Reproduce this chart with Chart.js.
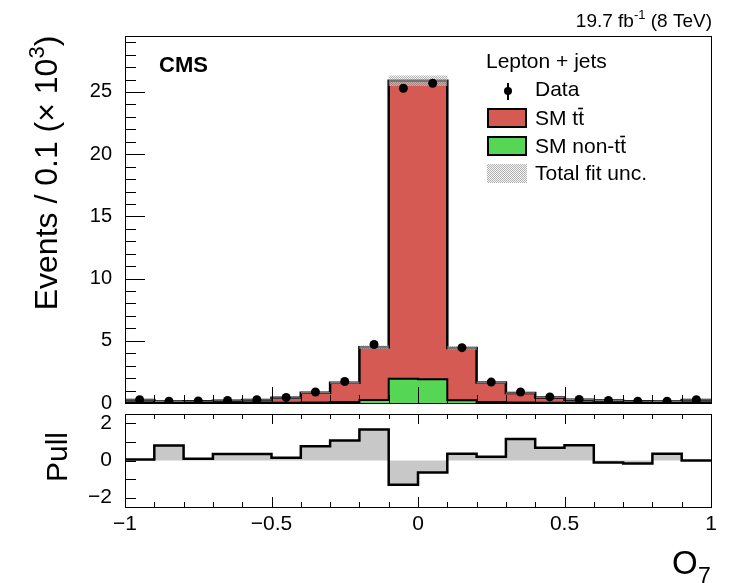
<!DOCTYPE html>
<html>
<head>
<meta charset="utf-8">
<title>O7 distribution</title>
<script src="https://cdn.jsdelivr.net/npm/chart.js@4.4.1/dist/chart.umd.min.js"></script>
<style>
  html, body { margin: 0; padding: 0; background: #fff; }
  #wrap { position: relative; width: 740px; height: 583px; }
  #wrap canvas { position: absolute; left: 0; top: 0; }
</style>
</head>
<body>
<div id="wrap">
  <canvas id="mainChart" width="740" height="583"></canvas>
  <canvas id="pullChart" width="740" height="583"></canvas>
</div>
<script>
// bins of O7 (lower edges), width 0.1
const binLow = [-1.0, -0.9, -0.8, -0.7, -0.6, -0.5, -0.4, -0.3, -0.2, -0.1,
                 0.0,  0.1,  0.2,  0.3,  0.4,  0.5,  0.6,  0.7,  0.8,  0.9];
const binUp = 1.0;

// events / 0.1 (x 10^3)
const smNonTT = [0.02, 0.01, 0.01, 0.01, 0.02, 0.03, 0.05, 0.09, 0.24, 1.95,
                 1.90, 0.23, 0.09, 0.05, 0.03, 0.02, 0.01, 0.01, 0.01, 0.02];
const smTT    = [0.23, 0.11, 0.14, 0.18, 0.23, 0.39, 0.77, 1.53, 4.24, 23.95,
                 24.00, 4.19, 1.56, 0.75, 0.42, 0.25, 0.19, 0.14, 0.12, 0.23];
const dataVals = [0.27, 0.15, 0.16, 0.20, 0.27, 0.45, 0.88, 1.73, 4.70, 25.3,
                  25.7, 4.45, 1.68, 0.88, 0.49, 0.29, 0.20, 0.15, 0.14, 0.26];
const fitUnc  = [0.05, 0.04, 0.04, 0.04, 0.05, 0.05, 0.06, 0.08, 0.14, 0.42,
                 0.42, 0.14, 0.08, 0.06, 0.05, 0.05, 0.04, 0.04, 0.04, 0.05];
const pullVals = [0.05, 0.80, 0.10, 0.35, 0.35, 0.15, 0.76, 1.07, 1.67, -1.31,
                  -0.64, 0.36, 0.20, 1.16, 0.69, 0.82, -0.11, -0.16, 0.36, 0.0];

const mainYTicks = [0, 5, 10, 15, 20, 25];
const pullYTicks = [-2, 0, 2];
const xTicks = [-1, -0.5, 0, 0.5, 1];

const colors = {
    tt: 'rgb(214, 90, 84)',
    nonTT: 'rgb(85, 214, 85)',
    pullFill: 'rgb(200, 200, 200)'
};
const FONT = '"Liberation Sans", Arial, Helvetica, sans-serif';

Chart.defaults.color = '#000';
Chart.defaults.font.family = FONT;
Chart.defaults.animation = false;

// histogram -> stepped points (lower edges + final upper edge)
function toSteps(vals) {
    const pts = vals.map((v, i) => ({ x: binLow[i], y: v }));
    pts.push({ x: binUp, y: vals[vals.length - 1] });
    return pts;
}

function fmtMinus(v) {
    return v < 0 ? '\u2212' + Math.abs(v) : String(v);
}

// dotted pattern for fit uncertainty
function makePattern() {
    const c = document.createElement('canvas');
    c.width = 2; c.height = 2;
    const g = c.getContext('2d');
    g.fillStyle = 'rgba(150, 150, 150, 0.75)';
    g.fillRect(0, 0, 1, 1);
    g.fillRect(1, 1, 1, 1);
    g.fillStyle = 'rgba(240, 240, 240, 0.5)';
    g.fillRect(1, 0, 1, 1);
    g.fillRect(0, 1, 1, 1);
    return g.createPattern(c, 'repeat');
}
const hatch = makePattern();

const totalPred = smTT.map((v, i) => v + smNonTT[i]);
const bandUp = totalPred.map((v, i) => v + fitUnc[i]);
const bandLow = totalPred.map((v, i) => v - fitUnc[i]);
const binCenters = binLow.map(v => v + 0.05);

// inward ticks + frame, ROOT style
const frameTicks = {
    id: 'frameTicks',
    afterDatasetsDraw(chart, args, o) {
        const { ctx, chartArea: a, scales: { x, y } } = chart;
        ctx.save();
        ctx.strokeStyle = '#000';
        ctx.lineWidth = 1;
        ctx.beginPath();
        for (let v = o.yFrom; v <= o.yTo + 1e-9; v += o.yMinor) {
            const py = Math.round(y.getPixelForValue(v)) + 0.5;
            const major = Math.abs(v / o.yMajor - Math.round(v / o.yMajor)) < 1e-6;
            ctx.moveTo(a.left, py);
            ctx.lineTo(a.left + (major ? o.yMajorLen : o.yMinorLen), py);
        }
        for (let v = -1; v <= 1 + 1e-9; v += 0.1) {
            const px = Math.round(x.getPixelForValue(v)) + 0.5;
            const major = Math.abs(v * 2 - Math.round(v * 2)) < 1e-6;
            const len = major ? o.xMajorLen : o.xMinorLen;
            ctx.moveTo(px, a.bottom);
            ctx.lineTo(px, a.bottom - len);
            if (o.topTicks) {
                ctx.moveTo(px, a.top);
                ctx.lineTo(px, a.top + len);
            }
        }
        ctx.stroke();
        ctx.strokeRect(Math.round(a.left) + 0.5, Math.round(a.top) + 0.5,
                       Math.round(a.width), Math.round(a.height));
        ctx.restore();
    }
};

// draws "prefix" + t + t-bar
function drawTTbar(ctx, prefix, x, y) {
    ctx.fillText(prefix + 'tt', x, y);
    const wAll = ctx.measureText(prefix + 'tt').width;
    const wT = ctx.measureText('t').width;
    ctx.save();
    ctx.lineWidth = 1.6;
    ctx.beginPath();
    ctx.moveTo(x + wAll - wT, y - 16.5);
    ctx.lineTo(x + wAll - 1, y - 16.5);
    ctx.stroke();
    ctx.restore();
}

const annotations = {
    id: 'annotations',
    afterDraw(chart) {
        const ctx = chart.ctx;
        ctx.save();
        ctx.fillStyle = '#000';
        ctx.strokeStyle = '#000';
        ctx.textBaseline = 'alphabetic';

        // lumi label
        const p1 = '19.7 fb', p3 = ' (8 TeV)';
        ctx.font = '13px ' + FONT;
        const wSup = ctx.measureText('-1').width;
        ctx.font = '19px ' + FONT;
        const w1 = ctx.measureText(p1).width, w3 = ctx.measureText(p3).width;
        let lx = 712 - (w1 + wSup + w3);
        ctx.fillText(p1, lx, 27);
        ctx.font = '13px ' + FONT;
        ctx.fillText('-1', lx + w1, 19);
        ctx.font = '19px ' + FONT;
        ctx.fillText(p3, lx + w1 + wSup, 27);

        // CMS
        ctx.font = 'bold 22px ' + FONT;
        ctx.fillText('CMS', 159, 72);

        // y title
        ctx.save();
        ctx.translate(57, 173);
        ctx.rotate(-Math.PI / 2);
        ctx.font = '32px ' + FONT;
        const t1 = 'Events / 0.1 (\u00d7 10';
        const wt1 = ctx.measureText(t1).width;
        ctx.font = '22px ' + FONT;
        const wt2 = ctx.measureText('3').width;
        ctx.font = '32px ' + FONT;
        const wt3 = ctx.measureText(')').width;
        const tx = -(wt1 + wt2 + wt3) / 2;
        ctx.fillText(t1, tx, 0);
        ctx.font = '22px ' + FONT;
        ctx.fillText('3', tx + wt1, -13);
        ctx.font = '32px ' + FONT;
        ctx.fillText(')', tx + wt1 + wt2, 0);
        ctx.restore();

        // Pull title
        ctx.save();
        ctx.translate(67, 457);
        ctx.rotate(-Math.PI / 2);
        ctx.font = '30px ' + FONT;
        ctx.textAlign = 'center';
        ctx.fillText('Pull', 0, 0);
        ctx.restore();

        // x title
        ctx.font = '33px ' + FONT;
        ctx.fillText('O', 672, 574);
        ctx.font = '23px ' + FONT;
        ctx.fillText('7', 698, 584);

        // legend
        ctx.font = '21px ' + FONT;
        ctx.fillText('Lepton + jets', 486, 68);
        ctx.lineWidth = 2;
        ctx.beginPath();
        ctx.moveTo(508, 83); ctx.lineTo(508, 100);
        ctx.stroke();
        ctx.beginPath();
        ctx.arc(508, 91, 4, 0, Math.PI * 2);
        ctx.fill();
        ctx.fillText('Data', 535, 96);

        ctx.fillStyle = colors.tt;
        ctx.fillRect(488, 109, 38, 18);
        ctx.strokeRect(488, 109, 38, 18);
        ctx.fillStyle = colors.nonTT;
        ctx.fillRect(488, 137, 38, 18);
        ctx.strokeRect(488, 137, 38, 18);
        ctx.fillStyle = hatch;
        ctx.fillRect(487, 164, 40, 19);

        ctx.fillStyle = '#000';
        drawTTbar(ctx, 'SM ', 535, 125);
        drawTTbar(ctx, 'SM non-', 535, 153);
        ctx.fillText('Total fit unc.', 535, 180);
        ctx.restore();
    }
};

const mainChart = new Chart(document.getElementById('mainChart'), {
    type: 'line',
    data: {
        datasets: [
            {
                label: 'Data',
                data: binCenters.map((x, i) => ({ x: x, y: dataVals[i] })),
                showLine: false,
                pointRadius: 4.5,
                pointBackgroundColor: '#000',
                pointBorderColor: '#000',
                pointBorderWidth: 0,
                order: 0
            },
            {
                label: 'Total fit unc.',
                data: toSteps(bandUp),
                stepped: true,
                borderWidth: 0,
                pointRadius: 0,
                fill: '+1',
                backgroundColor: hatch,
                order: 1
            },
            {
                label: 'band low',
                data: toSteps(bandLow),
                stepped: true,
                borderWidth: 0,
                pointRadius: 0,
                fill: false,
                order: 1
            },
            {
                label: 'SM non-tt',
                data: toSteps(smNonTT),
                stepped: true,
                borderColor: '#000',
                borderWidth: 2,
                pointRadius: 0,
                fill: 'origin',
                backgroundColor: colors.nonTT,
                order: 2
            },
            {
                label: 'SM tt',
                data: toSteps(totalPred),
                stepped: true,
                borderColor: '#000',
                borderWidth: 2.5,
                pointRadius: 0,
                fill: 'origin',
                backgroundColor: colors.tt,
                order: 3
            }
        ]
    },
    options: {
        responsive: false,
        layout: { padding: { left: 0, top: 36, right: 29, bottom: 180 } },
        plugins: {
            legend: { display: false },
            tooltip: { enabled: false },
            frameTicks: { yFrom: 0, yTo: 29, yMinor: 1, yMajor: 5, yMajorLen: 20, yMinorLen: 11,
                          xMajorLen: 16, xMinorLen: 8, topTicks: false }
        },
        scales: {
            x: { type: 'linear', min: -1, max: 1, display: false },
            y: {
                min: 0, max: 29.5,
                afterFit: (s) => { s.width = 125; },
                grid: { display: false },
                border: { display: false },
                afterBuildTicks: (s) => { s.ticks = mainYTicks.map(v => ({ value: v })); },
                ticks: { padding: 5, font: { size: 20 } }
            }
        }
    },
    plugins: [frameTicks, annotations]
});

const pullChart = new Chart(document.getElementById('pullChart'), {
    type: 'line',
    data: {
        datasets: [{
            label: 'Pull',
            data: toSteps(pullVals),
            stepped: true,
            borderColor: '#000',
            borderWidth: 2.5,
            pointRadius: 0,
            fill: { value: 0 },
            backgroundColor: colors.pullFill
        }]
    },
    options: {
        responsive: false,
        layout: { padding: { left: 0, top: 414, right: 29, bottom: 0 } },
        plugins: {
            legend: { display: false },
            tooltip: { enabled: false },
            frameTicks: { yFrom: -2, yTo: 2, yMinor: 1, yMajor: 1, yMajorLen: 11, yMinorLen: 11,
                          xMajorLen: 10, xMinorLen: 5, topTicks: true }
        },
        scales: {
            x: {
                type: 'linear', min: -1, max: 1,
                afterFit: (s) => { s.height = 76; },
                grid: { display: false },
                border: { display: false },
                afterBuildTicks: (s) => { s.ticks = xTicks.map(v => ({ value: v })); },
                ticks: { padding: -3, font: { size: 21 }, maxRotation: 0, callback: (v) => fmtMinus(v) }
            },
            y: {
                min: -2.5, max: 2.5,
                afterFit: (s) => { s.width = 125; },
                grid: { display: false },
                border: { display: false },
                afterBuildTicks: (s) => { s.ticks = pullYTicks.map(v => ({ value: v })); },
                ticks: { padding: 5, font: { size: 21 }, callback: (v) => fmtMinus(v) }
            }
        }
    },
    plugins: [frameTicks]
});
</script>
</body>
</html>
